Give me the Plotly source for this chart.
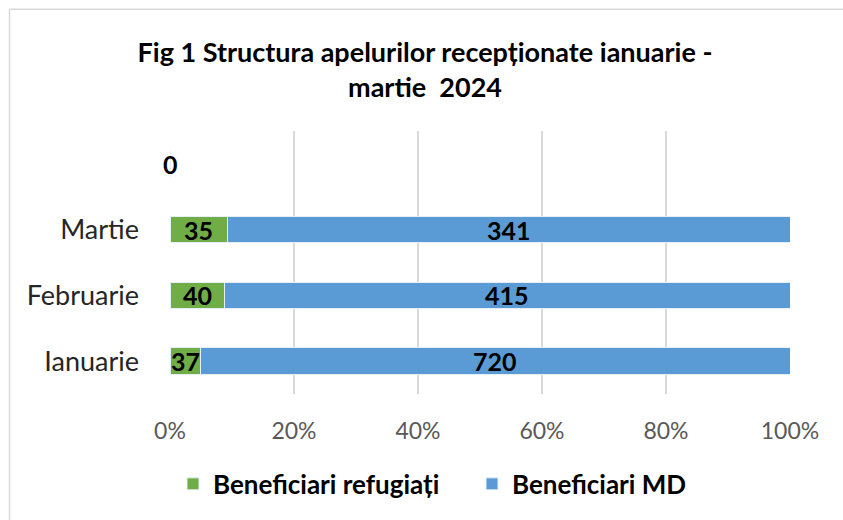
import plotly.graph_objects as go

categories = ["Ianuarie", "Februarie", "Martie", " "]
refugiati = [37, 40, 35, 0]
md = [720, 415, 341, 0]
x_ticks = [0, 0.2, 0.4, 0.6, 0.8, 1.0]
x_tick_labels = ["0%", "20%", "40%", "60%", "80%", "100%"]

GREEN = "#70AD47"
BLUE = "#5B9BD5"
FONT = "Lato"

totals = [r + m for r, m in zip(refugiati, md)]
ref_pct = [r / t if t else 0 for r, t in zip(refugiati, totals)]
md_pct = [m / t if t else 0 for m, t in zip(md, totals)]

fig = go.Figure()
fig.add_trace(go.Bar(
    y=categories, x=ref_pct, orientation="h", name="Beneficiari refugiați",
    marker=dict(color=GREEN, line=dict(color="#E6EEF6", width=1)),
    hoverinfo="skip",
))
fig.add_trace(go.Bar(
    y=categories, x=md_pct, orientation="h", name="Beneficiari MD",
    marker=dict(color=BLUE, line=dict(color="#E6EEF6", width=1)),
    hoverinfo="skip",
))

# data labels centred in each segment
lab_font = dict(family=FONT, size=25, color="black")
for c, r, rp, t in zip(categories, refugiati, ref_pct, totals):
    fig.add_annotation(x=rp / 2, y=c, xref="x", yref="y", text="<b>%d</b>" % r,
                       showarrow=False, font=lab_font, yshift=0)
for c, m, rp, mp, t in zip(categories, md, ref_pct, md_pct, totals):
    if t:
        fig.add_annotation(x=rp + mp / 2, y=c, xref="x", yref="y", text="<b>%d</b>" % m,
                           showarrow=False, font=lab_font, yshift=0)

L, R, T, B = 170, 53, 131, 120
W, H = 843, 520
pw, ph = W - L - R, H - T - B
def px_x(p):
    return (p - L) / pw
def px_y(p):
    return (H - B - p) / ph

fig.update_layout(
    width=W, height=H,
    margin=dict(l=L, r=R, t=T, b=B),
    paper_bgcolor="white", plot_bgcolor="white",
    barmode="stack", bargap=0.6,
    title=dict(
        text="<b>Fig 1 Structura apelurilor recepționate ianuarie -<br>martie  2024</b>",
        x=(425) / W, xref="container", xanchor="center", y=(H - 62) / H,
        yanchor="middle", yref="container",
        font=dict(family=FONT, size=27, color="black"),
    ),
    xaxis=dict(
        range=[0, 1], tickvals=x_ticks, ticktext=x_tick_labels,
        showgrid=True, gridcolor="#D9D9D9", gridwidth=2,
        zeroline=False, showline=False, ticks="", ticklabelstandoff=21,
        tickfont=dict(family=FONT, size=23, color="#595959"),
        fixedrange=True,
    ),
    yaxis=dict(
        categoryorder="array", categoryarray=categories,
        range=[-0.5, 3.5], showgrid=False, zeroline=False, showline=False,
        ticks="", ticklabelstandoff=30,
        tickfont=dict(family=FONT, size=27, color="#262626"),
        fixedrange=True,
    ),
    legend=dict(
        orientation="h", x=px_x(173), xanchor="left", y=px_y(492),
        yanchor="middle", font=dict(family=FONT, size=26, color="black", weight="bold"),
        itemwidth=30, traceorder="normal", entrywidth=254,
    ),
    showlegend=True,
    shapes=[
        dict(type="line", xref="paper", yref="paper", x0=px_x(9.5), x1=px_x(850),
             y0=px_y(6.5), y1=px_y(6.5), line=dict(color="#D9D9D9", width=1.5)),
        dict(type="line", xref="paper", yref="paper", x0=px_x(9.5), x1=px_x(9.5),
             y0=px_y(6.5), y1=px_y(530), line=dict(color="#D9D9D9", width=1.5)),
    ],
)

fig.write_html(
    "out.html",
    config={"displayModeBar": False},
    post_script="document.body.style.margin='0';document.body.style.overflow='hidden';",
)
